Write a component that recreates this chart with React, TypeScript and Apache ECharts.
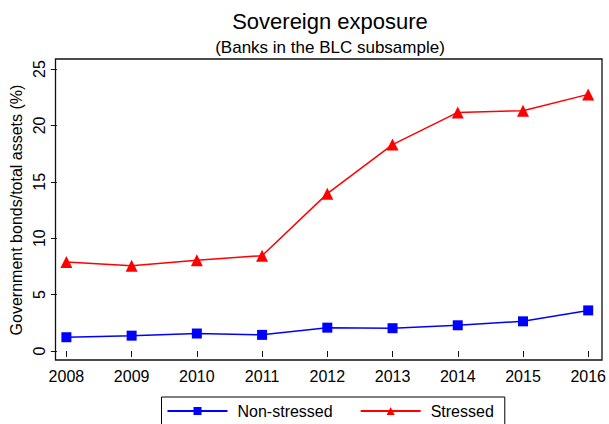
import React, { useEffect, useRef } from "react";
import * as echarts from "echarts";

const years = ["2008", "2009", "2010", "2011", "2012", "2013", "2014", "2015", "2016"];
const nonStressed = [1.22, 1.36, 1.55, 1.43, 2.07, 2.02, 2.28, 2.63, 3.6];
const stressed = [7.9, 7.55, 8.05, 8.45, 13.95, 18.3, 21.15, 21.3, 22.75];
const yTicks = { min: 0, max: 25, interval: 5 };

const titleText = "Sovereign exposure";
const subtitleText = "(Banks in the BLC subsample)";
const yAxisTitle = "Government bonds/total assets (%)";

const FONT = "'Liberation Sans', Arial, Helvetica, sans-serif";

export default function App() {
  const ref = useRef<HTMLDivElement>(null);
  useEffect(() => {
    if (!ref.current) return;
    const chart = echarts.init(ref.current, undefined, { renderer: "svg" });
    chart.setOption({
      animation: false,
      backgroundColor: "#ffffff",
      textStyle: { fontFamily: FONT, color: "#000" },
      graphic: [
        {
          type: "text",
          x: 330,
          y: 10,
          style: {
            text: titleText,
            textAlign: "center",
            textVerticalAlign: "top",
            font: `22px ${FONT}`,
            fill: "#000",
          },
        },
        {
          type: "text",
          x: 330,
          y: 38.5,
          style: {
            text: subtitleText,
            textAlign: "center",
            textVerticalAlign: "top",
            font: `17px ${FONT}`,
            fill: "#000",
          },
        },
        {
          type: "rect",
          shape: { x: 55.5, y: 59, width: 546.5, height: 301 },
          style: { fill: "none", stroke: "#111", lineWidth: 1.3 },
          silent: true,
        },
      ],
      grid: { left: 65, right: 16, top: 69, bottom: 73 },
      xAxis: {
        type: "category",
        data: years,
        boundaryGap: false,
        offset: 9,
        axisLine: { show: false },
        axisTick: { show: true, length: 6, lineStyle: { color: "#111", width: 1 } },
        axisLabel: { color: "#000", fontSize: 16, margin: 8, fontFamily: FONT },
        splitLine: { show: false },
      },
      yAxis: {
        type: "value",
        min: yTicks.min,
        max: yTicks.max,
        interval: yTicks.interval,
        offset: 9.5,
        name: yAxisTitle,
        nameLocation: "middle",
        nameGap: 28,
        nameTextStyle: { fontSize: 16, color: "#000", fontFamily: FONT },
        axisLine: { show: false },
        axisTick: { show: true, length: 6, lineStyle: { color: "#111", width: 1 } },
        axisLabel: { color: "#000", fontSize: 16, margin: 9, rotate: 90, fontFamily: FONT },
        splitLine: { show: false },
      },
      legend: {
        left: 161.5,
        top: 397,
        orient: "horizontal",
        itemWidth: 60,
        itemHeight: 10,
        itemGap: 27,
        padding: [6, 11, 6, 5],
        borderColor: "#000",
        borderWidth: 1,
        textStyle: { fontSize: 16, color: "#000", fontFamily: FONT, padding: [0, 0, 0, 5] },
        data: ["Non-stressed", "Stressed"],
      },
      series: [
        {
          name: "Non-stressed",
          type: "line",
          data: nonStressed,
          symbol: "rect",
          symbolSize: 10,
          lineStyle: { color: "#0000ff", width: 1.5 },
          itemStyle: { color: "#0000ff" },
        },
        {
          name: "Stressed",
          type: "line",
          data: stressed,
          symbol: "triangle",
          symbolSize: 12,
          lineStyle: { color: "#ff0000", width: 1.5 },
          itemStyle: { color: "#ff0000" },
        },
      ],
    });
    return () => chart.dispose();
  }, []);
  return (
    <div
      ref={ref}
      style={{ position: "absolute", left: 0, top: 0, width: 609, height: 424 }}
    />
  );
}
